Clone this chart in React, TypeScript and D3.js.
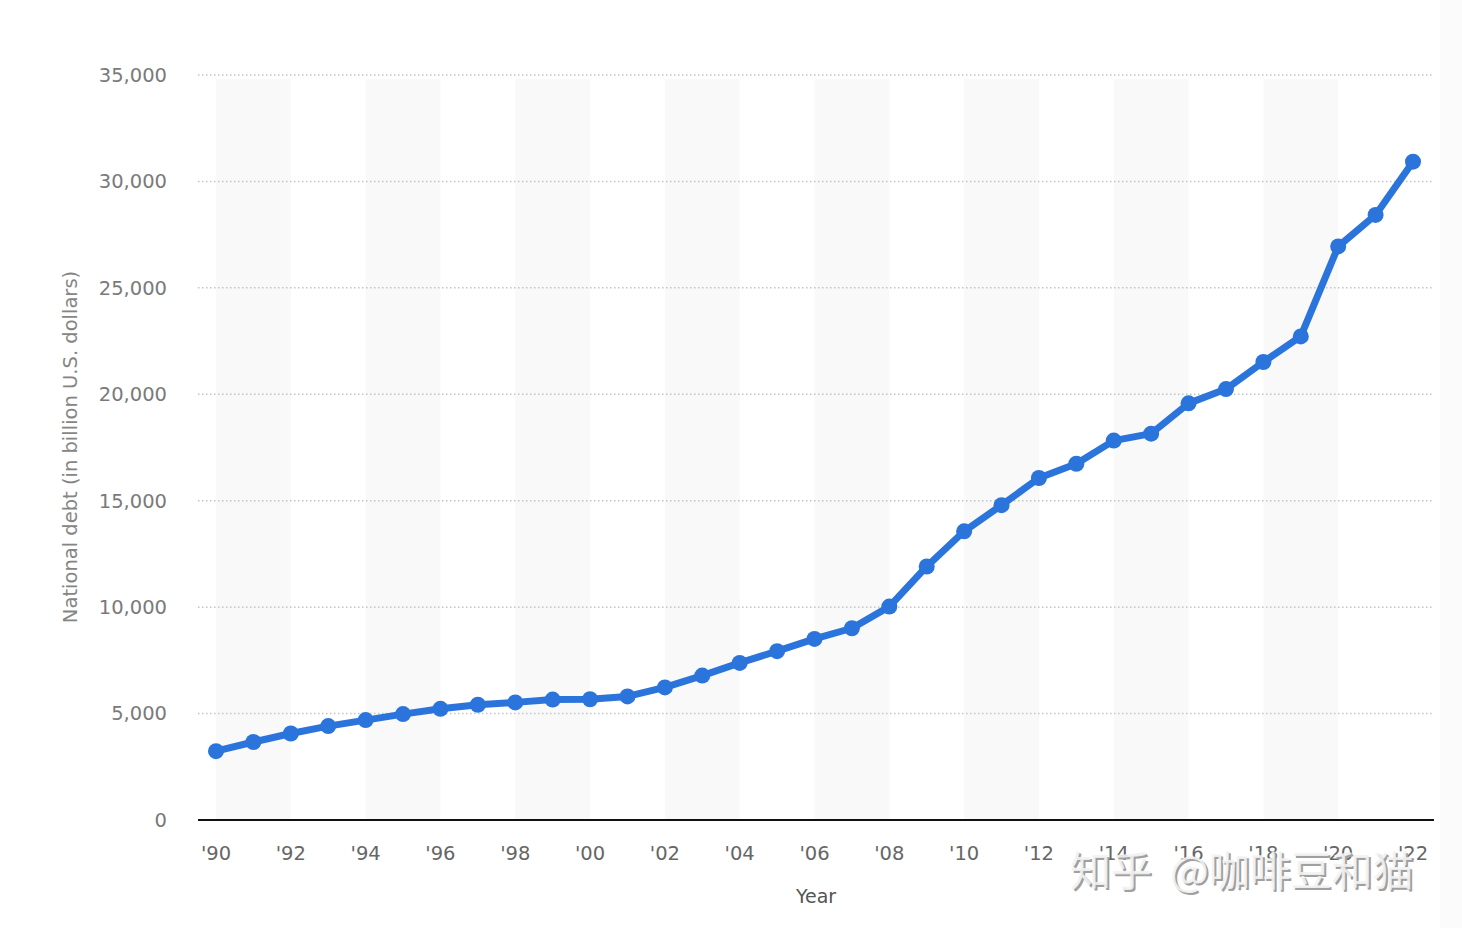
import React from "react";
import * as d3 from "d3";

const years = d3.range(1990, 2023);
const debt = [3233, 3665, 4065, 4411, 4693, 4974, 5225, 5413, 5526, 5656, 5674, 5807, 6228, 6783, 7379, 7933, 8507, 9008, 10025, 11910, 13562, 14790, 16066, 16738, 17824, 18151, 19573, 20245, 21516, 22719, 26945, 28428, 30929];
const yTicks = [0, 5000, 10000, 15000, 20000, 25000, 30000, 35000];
const xTickYears = d3.range(1990, 2023, 2);
const bandStarts = d3.range(1990, 2022, 4);

export default function App() {
  const W = 1462, H = 928;
  const x = d3.scaleLinear().domain([1990, 2022]).range([216, 1413]);
  const y = d3.scaleLinear().domain([0, 35000]).range([820, 75]);
  const data = years.map((yr, i) => ({ yr, v: debt[i] }));
  const line = d3.line<{ yr: number; v: number }>().x(d => x(d.yr)).y(d => y(d.v));
  const fmt = d3.format(",");
  const font = "'DejaVu Sans', Verdana, sans-serif";
  const blue = "#2a74dc";
  return (
    <svg width={W} height={H} style={{ position: "absolute", left: 0, top: 0, background: "#fff" }}>
      <rect x={1440} y={0} width={22} height={H} fill="#fbfbfb" />
      {bandStarts.map(b => (
        <rect key={b} x={x(b)} y={79} width={x(b + 2) - x(b)} height={820 - 79} fill="#f9f9f9" />
      ))}
      {yTicks.filter(t => t > 0).map(t => (
        <line key={t} x1={198} x2={1433} y1={y(t)} y2={y(t)} stroke="#c4c4c4" strokeWidth={1.5} strokeDasharray="1.5 2.5" />
      ))}
      {yTicks.map(t => (
        <text key={t} x={167} y={y(t)} dy="0.35em" textAnchor="end" fontFamily={font} fontSize={19.5} fill="#7a7a7a">{fmt(t)}</text>
      ))}
      <line x1={198} x2={1434} y1={820} y2={820} stroke="#111" strokeWidth={2} />
      {xTickYears.map(yr => (
        <text key={yr} x={x(yr)} y={860} textAnchor="middle" fontFamily={font} fontSize={19.5} fill="#666">{"'" + String(yr).slice(2)}</text>
      ))}
      <text x={816} y={903} textAnchor="middle" fontFamily={font} fontSize={19} fill="#555">Year</text>
      <text transform={`translate(77,447) rotate(-90)`} textAnchor="middle" fontFamily={font} fontSize={19.5} fill="#858585">National debt (in billion U.S. dollars)</text>
      <path d={line(data) || ""} fill="none" stroke={blue} strokeWidth={7} strokeLinejoin="round" />
      {data.map(d => (
        <circle key={d.yr} cx={x(d.yr)} cy={y(d.v)} r={8} fill={blue} />
      ))}
      <g fontFamily="'Noto Sans CJK SC', sans-serif" fontSize={41} fontWeight={400}>
        <text x={1070} y={886} fill="#a0a0a0" transform="translate(2,2)">知乎<tspan dx={18}>@咖啡豆和猫</tspan></text>
        <text x={1070} y={886} fill="#f2f2f2" fillOpacity={0.92}>知乎<tspan dx={18}>@咖啡豆和猫</tspan></text>
      </g>
    </svg>
  );
}
